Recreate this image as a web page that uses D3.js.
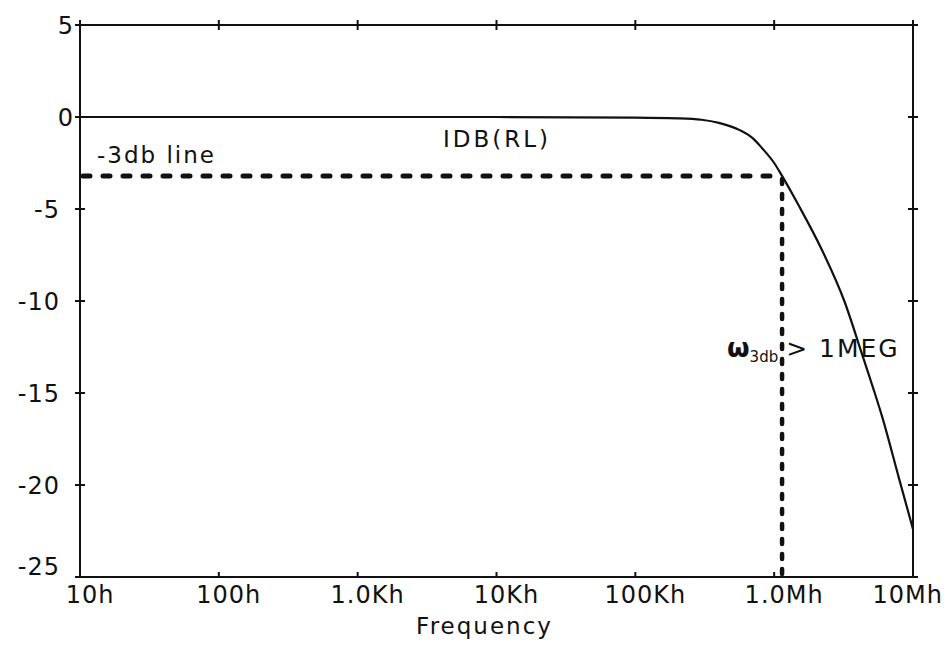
<!DOCTYPE html>
<html>
<head>
<meta charset="utf-8">
<script src="https://cdn.jsdelivr.net/npm/d3@7"></script>
<style>
  html, body { margin: 0; padding: 0; background: #fff; }
  svg { display: block; }
  text { font-family: "DejaVu Sans", Verdana, sans-serif; fill: #111; }
</style>
</head>
<body>
<div id="chart"></div>
<script>
// --- data ---
const freqHz = [10, 100, 1e3, 1e4, 1e5, 2e5, 3e5, 4e5, 5.6e5, 7e5, 8.2e5, 1e6,
  1.14e6, 1.5e6, 2.2e6, 3.2e6, 4.3e6, 5.2e6, 6e6, 7.9e6, 1e7];
const magDb = [0, 0, 0, 0, -0.03, -0.07, -0.15, -0.32, -0.7, -1.15, -1.7, -2.5,
  -3.2, -4.8, -7.2, -10.0, -12.9, -14.8, -16.3, -19.6, -22.4];

const xTickValues = [10, 100, 1e3, 1e4, 1e5, 1e6, 1e7];
const xTickLabels = ["10h", "100h", "1.0Kh", "10Kh", "100Kh", "1.0Mh", "10Mh"];
const yTickValues = [5, 0, -5, -10, -15, -20, -25];

const cutoffFreq = 1.14e6;
const cutoffDb = -3.2;

// --- layout ---
const W = 951, H = 650;
const margin = { top: 25, right: 38, bottom: 73, left: 80 };
const x0 = margin.left, x1 = W - margin.right;
const y0 = margin.top, y1 = H - margin.bottom;

const svg = d3.select("#chart").append("svg")
  .attr("width", W).attr("height", H);

const xScale = d3.scaleLog().domain([10, 1e7]).range([x0, x1]);
const yScale = d3.scaleLinear().domain([-25, 5]).range([y1, y0]);

// frame
svg.append("rect")
  .attr("x", x0).attr("y", y0)
  .attr("width", x1 - x0).attr("height", y1 - y0)
  .attr("fill", "none").attr("stroke", "#111").attr("stroke-width", 2);

// x ticks: bottom inward, top crossing
const tk = 5;
xTickValues.forEach(v => {
  const x = xScale(v);
  svg.append("line").attr("x1", x).attr("x2", x)
    .attr("y1", y1).attr("y2", y1 - tk)
    .attr("stroke", "#111").attr("stroke-width", 2);
  svg.append("line").attr("x1", x).attr("x2", x)
    .attr("y1", y0 - tk).attr("y2", y0 + tk)
    .attr("stroke", "#111").attr("stroke-width", 2);
});

// y ticks: crossing on both sides
yTickValues.forEach(v => {
  const y = yScale(v);
  [x0, x1].forEach(x => {
    svg.append("line").attr("x1", x - tk).attr("x2", x + tk)
      .attr("y1", y).attr("y2", y)
      .attr("stroke", "#111").attr("stroke-width", 2);
  });
});

// tick labels
svg.selectAll("text.xlab")
  .data(xTickValues)
  .enter().append("text")
  .attr("class", "xlab")
  .attr("x", (d, i) => i === xTickValues.length - 1 ? xScale(d) + 30 : xScale(d) + 10)
  .attr("y", y1 + 26)
  .attr("text-anchor", (d, i) => i === xTickValues.length - 1 ? "end" : "middle")
  .attr("font-size", 24)
  .attr("letter-spacing", 1)
  .text((d, i) => xTickLabels[i]);

svg.selectAll("text.ylab")
  .data(yTickValues)
  .enter().append("text")
  .attr("class", "ylab")
  .attr("x", d => d < 0 ? x0 - 20 : x0 - 6)
  .attr("y", d => Math.min(yScale(d), y1 - 11))
  .attr("dy", "0.36em")
  .attr("text-anchor", "end")
  .attr("font-size", 24)
  .attr("letter-spacing", 1)
  .text(d => d);

svg.append("text")
  .attr("x", (x0 + x1) / 2 - 12)
  .attr("y", y1 + 57)
  .attr("text-anchor", "middle")
  .attr("font-size", 23)
  .attr("letter-spacing", 2)
  .text("Frequency");

// -3db dashed guides
svg.append("line")
  .attr("x1", x0 + 3).attr("x2", xScale(cutoffFreq))
  .attr("y1", yScale(cutoffDb)).attr("y2", yScale(cutoffDb))
  .attr("stroke", "#111").attr("stroke-width", 5)
  .attr("stroke-linecap", "round")
  .attr("stroke-dasharray", "7,13");
svg.append("line")
  .attr("x1", xScale(cutoffFreq)).attr("x2", xScale(cutoffFreq))
  .attr("y1", yScale(cutoffDb) + 3).attr("y2", y1 - 2)
  .attr("stroke", "#111").attr("stroke-width", 4.5)
  .attr("stroke-linecap", "round")
  .attr("stroke-dasharray", "5,10");

// response curve
const pts = freqHz.map((f, i) => [f, magDb[i]]);
const line = d3.line()
  .x(d => xScale(d[0]))
  .y(d => yScale(d[1]))
  .curve(d3.curveMonotoneX);
svg.append("path")
  .datum(pts)
  .attr("d", line)
  .attr("fill", "none")
  .attr("stroke", "#111")
  .attr("stroke-width", 2.2);

// annotations
svg.append("text")
  .attr("x", 97).attr("y", 163)
  .attr("font-size", 23).attr("letter-spacing", 2)
  .text("-3db line");

svg.append("text")
  .attr("x", 443).attr("y", 147)
  .attr("font-size", 23).attr("letter-spacing", 3)
  .text("IDB(RL)");

const w3 = svg.append("text")
  .attr("x", 727).attr("y", 357)
  .attr("font-size", 25);
w3.append("tspan").attr("font-weight", "bold").attr("font-size", 26).text("ω");
w3.append("tspan").attr("font-size", 15).attr("dy", 5).text("3db");
w3.append("tspan").attr("dy", -5).attr("dx", 8).attr("letter-spacing", 2).text("> 1MEG");
</script>
</body>
</html>
